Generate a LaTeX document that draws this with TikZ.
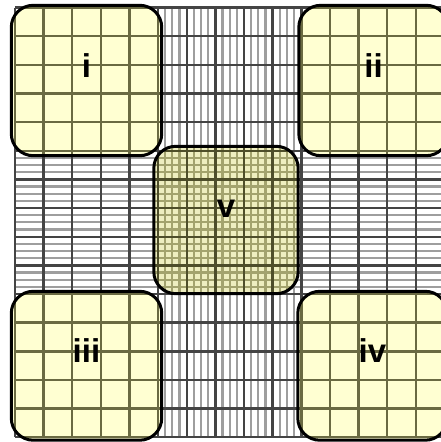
\documentclass[tikz,border=0pt]{standalone}
\usepackage{fontspec}
\setsansfont{Liberation Sans}
\usepackage{xcolor}
\usetikzlibrary{positioning,calc}
\definecolor{majorline}{HTML}{444444}
\definecolor{minorline}{HTML}{9E9E9E}
\definecolor{padfill}{HTML}{FFFFD2}
\definecolor{padline}{HTML}{6A6A42}
\definecolor{padminor}{HTML}{A3A36E}
\definecolor{centrefill}{HTML}{EEEEC0}
\definecolor{centreline}{HTML}{4E4E2A}
\tikzset{
  font=\sffamily,
  major/.style={
    draw=majorline,
    line width=2.4pt
  },
  minor/.style={
    draw=minorline,
    line width=2.2pt
  },
  pad/.style={
    fill=padfill,
    rounded corners=22pt,
    inner sep=0pt,
    minimum width=150pt,
    minimum height=150pt
  },
  centrepad/.style={
    pad,
    fill=centrefill
  },
  padedge/.style={
    draw=black,
    line width=3pt,
    rounded corners=22pt
  },
  padgrid/.style={
    draw=padline,
    line width=2.4pt
  },
  padfine/.style={
    draw=padminor,
    line width=2.2pt
  },
  padlabel/.style={
    font=\sffamily\bfseries\fontsize{33}{35}\selectfont,
    text=black,
    anchor=base,
    inner sep=0pt,
    yshift=3pt
  }
}

\begin{document}
\begin{tikzpicture}[x=1pt,y=-1pt]

\useasboundingbox[fill=white] (0,0) rectangle (441,442);

% ---------------------------------------------------------------------------
% Background grid: fine bands first, then the 15 x 15 main grid
% ---------------------------------------------------------------------------
\foreach \k in {0,...,20} {
  \draw[minor] ({158.05+7.1625*\k},7.5) -- ++(0,429.75);
  \draw[minor] (14.8,{150.75+7.1625*\k}) -- ++(429.75,0);
}
\foreach \k in {0,...,15} {
  \draw[major] ({14.8+28.65*\k},7.5) -- ++(0,429.75);
  \draw[major] (14.8,{7.5+28.65*\k}) -- ++(429.75,0);
}

% ---------------------------------------------------------------------------
% Pads
% ---------------------------------------------------------------------------
\node[pad] (padi) at (86.5,80.5) {};
\node[pad, minimum width=149pt] (padii) at (373.5,80.5) {};
\node[pad, minimum height=148.5pt] (padiii) at (86.5,365.75) {};
\node[pad, minimum width=149pt, minimum height=148.5pt] (padiv) at (372.5,365.75) {};
\node[centrepad, minimum width=144pt, minimum height=147pt] (padv) at (226,220) {};

% grid seen through the corner pads
\foreach \p in {padi,padii,padiii,padiv} {
  \begin{scope}
    \clip[rounded corners=22pt] (\p.south west) rectangle (\p.north east);
    \foreach \k in {0,...,15} {
      \draw[padgrid] ({14.8+28.65*\k},7.5) -- ++(0,429.75);
      \draw[padgrid] (14.8,{7.5+28.65*\k}) -- ++(429.75,0);
    }
  \end{scope}
}

% both fine bands cross under the centre pad
\begin{scope}
  \clip[rounded corners=22pt] (padv.south west) rectangle (padv.north east);
  \foreach \k in {0,...,20} {
    \draw[padfine] ({158.05+7.1625*\k},7.5) -- ++(0,429.75);
    \draw[padfine] (14.8,{150.75+7.1625*\k}) -- ++(429.75,0);
  }
  \foreach \k in {0,...,15} {
    \draw[padgrid, draw=centreline] ({14.8+28.65*\k},7.5) -- ++(0,429.75);
    \draw[padgrid, draw=centreline] (14.8,{7.5+28.65*\k}) -- ++(429.75,0);
  }
\end{scope}

\foreach \p in {padi,padii,padiii,padiv,padv}
  \draw[padedge] (\p.south west) rectangle (\p.north east);

% Labels last.
\node[padlabel] (labi) at (padi.center) {i};
\node[padlabel] (labii) at (padii.center) {ii};
\node[padlabel] (labiii) at (padiii.center) {iii};
\node[padlabel] (labiv) at (padiv.center) {iv};
\node[padlabel] (labv) at (padv.center) {v};

\end{tikzpicture}
\end{document}
